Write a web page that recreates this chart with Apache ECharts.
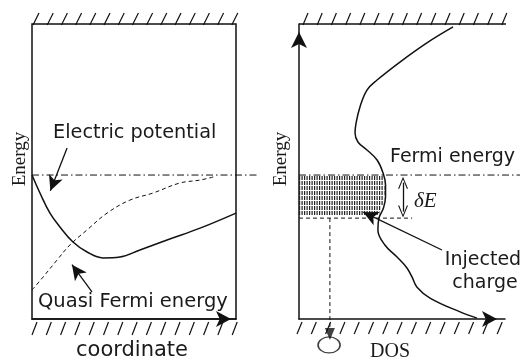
<!DOCTYPE html>
<html><head><meta charset="utf-8">
<script src="https://cdn.jsdelivr.net/npm/echarts@6/dist/echarts.min.js"></script>
<style>html,body{margin:0;padding:0;background:#fff}#c{width:523px;height:362px}</style>
</head><body><div id="c"></div>
<script>
// ---- data (axis units: 0..100 on every axis) ----
const fermiLevel = 48.8;
const injectedLevel = 34.2;
const potentialX = [0, 3.9, 8.8, 13.7, 20.1, 27.0, 34.8, 43.1, 52.9, 66.2, 82.4, 100];
const potentialY = [48.8, 42.7, 35.9, 31.2, 26.1, 22.7, 20.7, 21.0, 23.4, 26.8, 30.8, 35.9];
const quasiX = [0, 5.4, 12.3, 18.6, 27.0, 36.8, 48.0, 59.3, 72.5, 82.4, 89.7];
const quasiY = [9.8, 14.2, 20.0, 25.1, 30.2, 35.9, 40.3, 42.7, 46.1, 47.1, 48.3];
const dosX = [74.8, 62.1, 49.0, 37.9, 33.0, 29.6, 27.7, 27.2, 28.6, 33.0, 37.9, 40.8, 42.0, 42.0, 41.0, 38.8, 38.3, 41.7, 47.6, 52.4, 54.9, 57.3, 63.6, 78.2, 86.4];
const dosE = [99.0, 93.6, 87.1, 81.0, 77.6, 71.9, 66.4, 63.1, 60.0, 57.3, 53.9, 49.5, 45.4, 41.4, 37.6, 34.2, 30.2, 25.1, 21.0, 17.3, 14.2, 10.8, 7.1, 2.4, 0.3];
const shadeE = [47.8, 46.1, 44.4, 42.7, 41.0, 39.3, 37.6, 35.9];
const shadeEdge = [40.8, 41.3, 41.5, 41.5, 41.3, 40.8, 40.0, 39.0];
const fermiSpan = [0, 100];           // on the two overlay Fermi axes
const deltaEX = 50.5, deltaETop = 46.2, deltaEBottom = 36.4;
const dashEndX = 54.9;
const dropX = 15.0, dropEnd = -3.0, dropHead = -5.1, circleE = -8.8;
const arrowPotential = [[17.2, 58.0], [9.0, 43.5]];
const arrowQuasi = [[29.4, 9.2], [19.6, 18.4]];
const arrowInjected = [[69.4, 23.4], [31.2, 36.2]];
const labels = {
  energy: 'Energy', coordinate: 'coordinate', dos: 'DOS',
  potential: 'Electric potential', quasi: 'Quasi Fermi energy',
  fermi: 'Fermi energy', injected1: 'Injected', injected2: 'charge', dE: 'δE'
};

const zip = (a, b) => a.map((v, i) => [v, b[i]]);
const INK = '#111';
const SANS = 'DejaVu Sans';
const SERIF = 'Liberation Serif';
const chevron = 'path://M0,12 L5,0 L10,12 L8.8,12 L5,2.6 L1.2,12 Z';

const graphics = [];
function hatch(x0, n, step, yb, yt, dx) {
  for (let i = 0; i < n; i++) {
    const x = x0 + i * step;
    graphics.push({ type: 'line', silent: true, shape: { x1: x, y1: yb, x2: x + dx, y2: yt }, style: { stroke: INK, lineWidth: 1.2 } });
  }
}
hatch(33, 15, 14.2, 25, 13, 6);
hatch(32, 15, 14.3, 335, 322, 5);
hatch(303, 15, 14.2, 25, 13, 5);
hatch(297, 15, 14.3, 334, 322, 5);
graphics.push({ type: 'line', silent: true, shape: { x1: 299, y1: 24, x2: 506, y2: 24 }, style: { stroke: INK, lineWidth: 1.5 } });
function txt(s, x, y, family, size, align, rot, italic) {
  graphics.push({ type: 'text', x: x, y: y, rotation: rot || 0, silent: true,
    style: { text: s, fontFamily: family, fontSize: size, fontStyle: italic ? 'italic' : 'normal', fill: '#1a1a1a',
      align: align || 'left', verticalAlign: 'middle' } });
}
txt(labels.energy, 20, 159, SERIF, 19, 'center', Math.PI / 2);
txt(labels.energy, 281, 159, SERIF, 19, 'center', Math.PI / 2);
txt(labels.potential, 53, 133, SANS, 19.3, 'left');
txt(labels.quasi, 38, 302, SANS, 19.5, 'left');
txt(labels.coordinate, 132, 351, SANS, 21, 'center');
txt(labels.fermi, 390, 157, SANS, 19, 'left');
txt(labels.injected1, 483, 260, SANS, 19, 'center');
txt(labels.injected2, 485, 283, SANS, 19, 'center');
txt(labels.dE, 414, 201, SERIF, 21, 'left', 0, true);
txt(labels.dos, 390, 352, SERIF, 20, 'center');

const hiddenAxis = (grid) => ({ type: 'value', gridIndex: grid, min: 0, max: 100, show: false });
function axisX(grid, show, offset) {
  return { type: 'value', gridIndex: grid, min: 0, max: 100, axisTick: { show: false }, axisLabel: { show: false }, splitLine: { show: false },
    axisLine: { show: show, onZero: false, symbol: ['none', 'arrow'], symbolSize: [12, 15], symbolOffset: [0, offset], lineStyle: { color: INK, width: 1.5 } } };
}
function arrowLine(pair, size) {
  return { symbol: ['none', 'arrow'], symbolSize: size || [11, 15], silent: true, label: { show: false },
    lineStyle: { color: INK, width: 1.3, type: 'solid' },
    data: [[{ coord: pair[0] }, { coord: pair[1] }]] };
}
const line = (name, xi, data, style, extra) => Object.assign({ type: 'line', name: name, xAxisIndex: xi, yAxisIndex: xi, data: data,
  showSymbol: false, symbol: 'none', clip: false, lineStyle: Object.assign({ color: INK, width: 1.5 }, style) }, extra || {});

const option = {
  animation: false,
  grid: [
    { left: 32, top: 24, width: 204, height: 295, show: true, borderColor: INK, borderWidth: 1.5, backgroundColor: 'transparent' },
    { left: 299, top: 24, width: 206, height: 295 },
    { left: 32, top: 24, width: 226, height: 295 },
    { left: 299, top: 24, width: 221, height: 295 }
  ],
  xAxis: [axisX(0, true, -5), axisX(1, true, -8), hiddenAxis(2), hiddenAxis(3)],
  yAxis: [
    { type: 'value', gridIndex: 0, min: 0, max: 100, axisLine: { show: false }, axisTick: { show: false }, axisLabel: { show: false }, splitLine: { show: false } },
    { type: 'value', gridIndex: 1, min: 0, max: 100, axisTick: { show: false }, axisLabel: { show: false }, splitLine: { show: false },
      axisLine: { show: true, onZero: false, symbol: ['none', 'arrow'], symbolSize: [12, 16], symbolOffset: [0, -8], lineStyle: { color: INK, width: 1.5 } } },
    hiddenAxis(2), hiddenAxis(3)
  ],
  series: [
    line('Electric potential', 0, zip(potentialX, potentialY), {}, { smooth: 0.4, markLine: arrowLine(arrowPotential) }),
    line('Quasi Fermi energy', 0, zip(quasiX, quasiY), { width: 1, type: [4, 3] }, { smooth: 0.4, markLine: arrowLine(arrowQuasi) }),
    line('Fermi left', 2, fermiSpan.map(v => [v, fermiLevel]), { width: 1, type: [7, 3, 1.5, 3] }),
    {
      type: 'custom', name: 'Injected charge', xAxisIndex: 1, yAxisIndex: 1, clip: false,
      data: zip(shadeEdge, shadeE),
      renderItem: function (params, api) {
        const p1 = api.coord([0, api.value(1)]);
        const p2 = api.coord([api.value(0), api.value(1)]);
        return { type: 'line', shape: { x1: p1[0], y1: p1[1], x2: p2[0], y2: p2[1] },
          style: { stroke: '#222', lineWidth: 4, lineDash: [1.2, 1.3] } };
      }
    },
    line('DOS', 1, zip(dosX, dosE), {}, { smooth: 0.4, markLine: arrowLine(arrowInjected) }),
    line('Fermi right', 3, fermiSpan.map(v => [v, fermiLevel]), { width: 1, type: [7, 3, 1.5, 3] }),
    line('Lower level', 1, [[0, injectedLevel], [dashEndX, injectedLevel]], { width: 1, type: [4, 3] }),
    line('dE', 1, [], {}, { markLine: { symbol: [chevron, chevron], symbolSize: [10, 12], silent: true, label: { show: false },
      lineStyle: { color: INK, width: 1.3, type: 'solid' }, data: [[{ coord: [deltaEX, deltaETop] }, { coord: [deltaEX, deltaEBottom] }]] } }),
    line('Drop', 1, [[dropX, injectedLevel], [dropX, dropEnd]], { width: 1, type: [4, 3] }),
    { type: 'scatter', xAxisIndex: 1, yAxisIndex: 1, clip: false, symbol: 'triangle', symbolRotate: 180, symbolSize: [10, 12],
      itemStyle: { color: INK }, data: [[dropX, dropHead]] },
    { type: 'scatter', xAxisIndex: 1, yAxisIndex: 1, clip: false, symbol: 'circle', symbolSize: [22, 16],
      itemStyle: { color: 'transparent', borderColor: INK, borderWidth: 1.4 }, data: [[dropX - 0.4, circleE]] }
  ],
  graphic: graphics
};
const chart = echarts.init(document.getElementById('c'));
chart.setOption(option);
</script></body></html>
